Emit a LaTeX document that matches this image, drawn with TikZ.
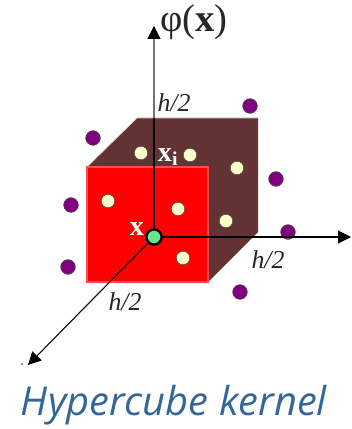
\documentclass[tikz,border=0pt]{standalone}
\usepackage{fontspec}
\setmainfont{Liberation Serif}
\newfontfamily\captionfont{Open Sans}
\usetikzlibrary{arrows.meta}
\definecolor{hcRed}{HTML}{FF0000}
\definecolor{hcEdge}{HTML}{FF4D4D}
\definecolor{hcBrown}{HTML}{633333}
\definecolor{hcPurple}{HTML}{800080}
\definecolor{hcCream}{HTML}{FFFFCC}
\definecolor{hcGreen}{HTML}{66E68C}
\definecolor{hcBlue}{HTML}{336699}
\tikzset{
  hc axis/.style={draw=black, line width=0.9pt, -{Triangle[length=11pt,width=11pt,color=black]}},
  hc outside/.style={circle, draw=black!70, fill=hcPurple, line width=0.5pt, minimum size=12.5pt, inner sep=0pt},
  hc inside/.style={circle, draw=black!70, fill=hcCream, line width=0.5pt, minimum size=11.5pt, inner sep=0pt},
  hc center/.style={circle, draw=black, fill=hcGreen, line width=2pt, minimum size=13pt, inner sep=0pt},
  hc label/.style={font=\fontsize{22}{24}\selectfont\itshape, text=black!85, inner sep=0pt},
  hc white/.style={font=\fontsize{24}{26}\selectfont\bfseries, text=white, inner sep=0pt},
}

\begin{document}
\begin{tikzpicture}[x=0.03cm, y=-0.03cm]
  \useasboundingbox (0,0) rectangle (351,429);
  % Back faces of the cube
  \fill[hcBrown] (87,167) -- (137,118) -- (258,118) -- (258,232) -- (208,282) -- cycle;
  \draw[white!75!hcBrown, line width=0.6pt] (87,167) -- (137,118) -- (258,118);
  % Front face
  \draw[hcEdge, fill=hcRed, line width=1pt] (87,167) rectangle (208,282);
  % Points inside the cube
  \foreach \px/\py/\pname in {141/153/a, 190/155/b, 237/168/c, 108/201/d, 178/209/e, 226/221/f, 183/258/g} {
    \node[hc inside] (in\pname) at (\px,\py) {};
  }
  % Points outside the cube
  \foreach \px/\py/\pname in {250/106/a, 93/138/b, 276/179/c, 71/205/d, 288/232/e, 68/267/f, 240/292/g} {
    \node[hc outside] (out\pname) at (\px,\py) {};
  }
  % Axes
  \coordinate (orig) at (154,237);
  \coordinate (ytop) at (154,118);
  \coordinate (ytip) at (154,26);
  \coordinate (xtip) at (351,237);
  \coordinate (ztip) at (28,365);
  \draw[hc axis, draw=black!55] (ytop) -- (ytip);
  \draw[draw=black, line width=0.9pt] (orig) -- (ytop);
  \draw[hc axis] (orig) -- (xtip);
  \draw[hc axis] (orig) -- (ztip);
  \node[hc center] (center) at (orig) {};
  % Labels
  \node[font=\fontsize{33}{35}\selectfont, text=black!85, inner sep=0pt] (phi) at (194,22) {φ(\textbf{x})};
  \node[hc label] (hy) at (174,103) {h/2};
  \node[hc label] (hx) at (268,260) {h/2};
  \node[hc label] (hz) at (125,302) {h/2};
  \node[hc white] (xi) at (168,157) {x\textsubscript{i}};
  \node[hc white] (xc) at (137,229) {x};
  \node[font=\bfseries, text=hcBlue, inner sep=0pt] (speck) at (22,365) {.};
  \node[font=\captionfont\itshape\fontsize{34}{36}\selectfont, text=hcBlue, inner sep=0pt] (title) at (174,405) {Hypercube kernel};
\end{tikzpicture}
\end{document}
